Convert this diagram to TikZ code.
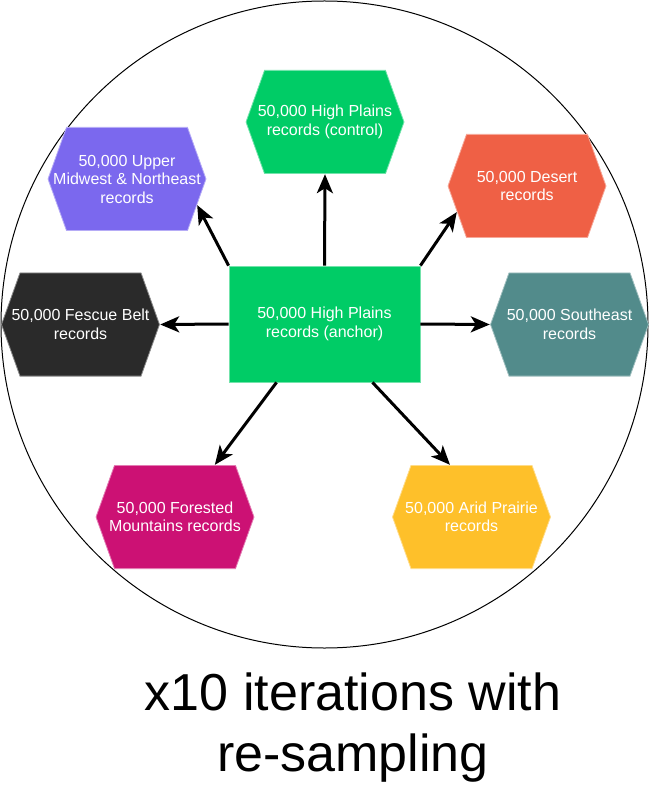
\documentclass[tikz,border=0pt]{standalone}
\usepackage{fontspec}
\setmainfont{Liberation Sans}
\usetikzlibrary{arrows.meta,calc}

\definecolor{hpgreen}{HTML}{00CC66}
\definecolor{umwpurple}{HTML}{7B68EE}
\definecolor{desertred}{HTML}{EF6045}
\definecolor{seteal}{HTML}{528B8B}
\definecolor{fescuedark}{HTML}{2A2A2A}
\definecolor{forestmag}{HTML}{CC1174}
\definecolor{aridgold}{HTML}{FEC02A}

\tikzset{
  boxtext/.style={text=white, align=center, inner sep=0pt,
    font=\fontsize{16}{18.5}\selectfont},
  % flat hexagon filling the node's rectangle, pointed at east and west
  hexa/.style={boxtext, minimum width=159pt, minimum height=104pt,
    path picture={
      \filldraw[fill=#1, draw=#1!55!white, line width=0.8pt]
        ([xshift=0.5pt]path picture bounding box.west)
        -- ([xshift=19pt,yshift=-0.4pt]path picture bounding box.north west)
        -- ([xshift=-19pt,yshift=-0.4pt]path picture bounding box.north east)
        -- ([xshift=-0.5pt]path picture bounding box.east)
        -- ([xshift=-19pt,yshift=0.4pt]path picture bounding box.south east)
        -- ([xshift=19pt,yshift=0.4pt]path picture bounding box.south west)
        -- cycle;}},
  anchorbox/.style={boxtext, fill=hpgreen, draw=hpgreen!55!white, line width=0.8pt,
    minimum width=191pt, minimum height=116pt},
  arr/.style={line width=3pt, -{Stealth[length=19pt,width=16pt,inset=5pt]}},
  caption/.style={align=center, inner sep=0pt,
    font=\fontsize{52}{61}\selectfont}
}

\begin{document}
\begin{tikzpicture}[x=1pt,y=-1pt]
\useasboundingbox (0,0) rectangle (649,799);

% enclosing loop
\draw[line width=1pt] (324.5,324.5) circle (323.5);

% central sample and the regional samples around it
\node[anchorbox] (anc) at (324.5,324) {50,000 High Plains\\records (anchor)};
\node[hexa=hpgreen]    (ctrl) at (325,122)   {50,000 High Plains\\records (control)};
\node[hexa=umwpurple]  (umw)  at (127,179)   {50,000 Upper\\Midwest \& Northeast\\records};
\node[hexa=desertred]  (des)  at (527,186)   {50,000 Desert\\records};
\node[hexa=fescuedark] (fes)  at (80.5,324.5) {50,000 Fescue Belt\\records};
\node[hexa=seteal]     (se)   at (569.5,324.5) {50,000 Southeast\\records};
\node[hexa=forestmag]  (fore) at (175,517)   {50,000 Forested\\Mountains records};
\node[hexa=aridgold]   (ari)  at (471.5,517) {50,000 Arid Prairie\\records};

% connectors
\draw[arr] (anc.north) -- (ctrl.south);
\draw[arr] (anc.north west) -- ($(umw.east)!0.5!([xshift=-19pt]umw.south east)$);
\draw[arr] (anc.north east) -- ($(des.west)!0.5!([xshift=19pt]des.south west)$);
\draw[arr] (anc.west) -- (fes.east);
\draw[arr] (anc.east) -- (se.west);
\draw[arr] ($(anc.south west)!0.25!(anc.south east)$) -- ($(fore.north west)!0.75!(fore.north east)$);
\draw[arr] ($(anc.south west)!0.75!(anc.south east)$) -- ($(ari.north west)!0.365!(ari.north east)$);

% caption under the loop
\node[caption] (cap) at (353,727.7) {x10 iterations with\\re-sampling};
\end{tikzpicture}
\end{document}
